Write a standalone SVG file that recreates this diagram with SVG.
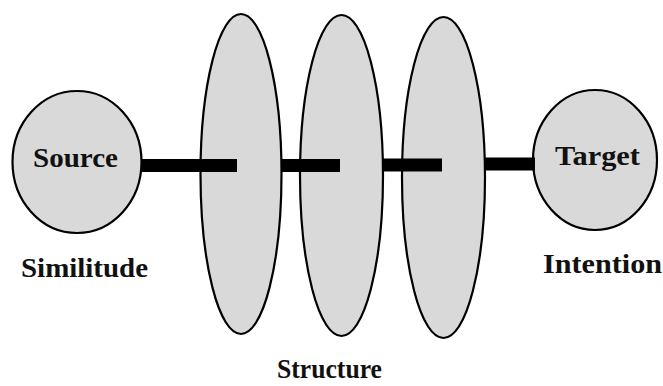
<svg xmlns="http://www.w3.org/2000/svg" width="663" height="386" viewBox="0 0 663 386">
<style>
.shape{fill:#d9d9d9;stroke:#000;stroke-width:2.2}
.bar{fill:#000}
.t{font-family:"Liberation Serif",serif;font-weight:bold;fill:#111}
.lbl{font-size:28px}
.cap{font-size:27px}
</style>
<rect width="663" height="386" fill="#fff"/>
<g id="structure1"><ellipse class="shape" cx="241" cy="174" rx="40.5" ry="160"/></g>
<g id="structure2"><ellipse class="shape" cx="341.5" cy="175.5" rx="41.5" ry="160.5"/></g>
<g id="structure3"><ellipse class="shape" cx="443.5" cy="177.5" rx="41.5" ry="160.5"/></g>
<g id="source">
<ellipse class="shape" cx="77" cy="162" rx="64.5" ry="71"/>
<text class="t lbl" x="33" y="167" textLength="85" lengthAdjust="spacingAndGlyphs">Source</text>
</g>
<g id="target">
<ellipse class="shape" cx="595" cy="160" rx="62" ry="70"/>
<text class="t lbl" x="555" y="165" textLength="85" lengthAdjust="spacingAndGlyphs">Target</text>
</g>
<g id="connectors">
<rect class="bar" x="141" y="159" width="96" height="13"/>
<rect class="bar" x="281" y="159" width="59" height="13"/>
<rect class="bar" x="383" y="158.5" width="59" height="13"/>
<rect class="bar" x="485" y="157.5" width="50" height="13"/>
</g>
<text class="t cap" x="21" y="277" textLength="127" lengthAdjust="spacingAndGlyphs">Similitude</text>
<text class="t cap" x="543" y="273" textLength="119" lengthAdjust="spacingAndGlyphs">Intention</text>
<text class="t cap" x="277" y="378" textLength="105" lengthAdjust="spacingAndGlyphs">Structure</text>
</svg>
